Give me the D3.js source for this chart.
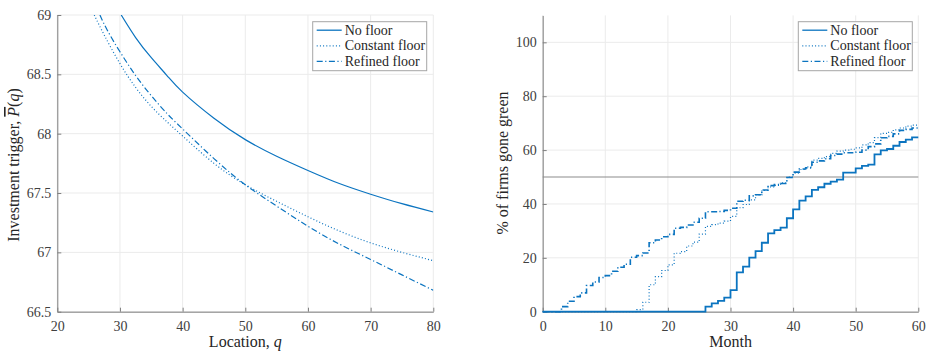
<!DOCTYPE html>
<html>
<head>
<meta charset="utf-8">
<script src="https://cdn.jsdelivr.net/npm/d3@7"></script>
<style>
  body { margin: 0; background: #fff; }
  text { font-family: "Liberation Serif", "DejaVu Serif", serif; }
</style>
</head>
<body>
<div id="chart-area"></div>
<script>
// ---- data ----

// left panel: investment trigger against location q
var qNoFloor = [30.2, 32.5, 35, 37.5, 40, 45, 50, 55, 60, 65, 70, 75, 80]
var pNoFloor = [69.0, 68.81, 68.64, 68.49, 68.35, 68.13, 67.95, 67.81, 67.69, 67.58, 67.49, 67.41, 67.34]

var qConst = [25.9, 27.5, 30, 32.5, 35, 37.5, 40, 45, 50, 55, 60, 65, 70, 75, 80]
var pConst = [69.0, 68.83, 68.59, 68.39, 68.23, 68.1, 67.98, 67.75, 67.57, 67.43, 67.3, 67.18, 67.08, 67.0, 66.93]

var qRefined = [26.8, 28, 30, 32.5, 35, 37.5, 40, 45, 50, 55, 60, 65, 70, 75, 80]
var pRefined = [69.0, 68.87, 68.69, 68.49, 68.32, 68.17, 68.04, 67.79, 67.57, 67.39, 67.22, 67.07, 66.94, 66.81, 66.68]

var leftXTicks = [20, 30, 40, 50, 60, 70, 80]
var leftYTicks = [66.5, 67, 67.5, 68, 68.5, 69]

// right panel: share of firms gone green by month (stairs)
var months = d3.range(0, 61)
var greenNoFloor = [0,0,0,0,0, 0,0,0,0,0, 0,0,0,0,0, 0,0,0,0,0, 0,0,0,0,0, 0,
  1.9, 3.1, 4.0, 5.2, 8.0, 14.6, 16.7, 20.1, 22.5, 25.6, 29.1, 30.3, 31.2, 34.7, 38.0,
  41.2, 42.8, 45.2, 46.2, 47.5, 48.3, 49.0, 51.6, 51.6, 53.2, 54.1, 54.6, 58.4, 59.9, 60.4,
  61.6, 63.0, 63.9, 64.7, 64.7]
var greenConst = [0,0,0,0,0, 0,0,0,0,0, 0,0,0,0,0,
  0.8, 3.5, 10.0, 13.0, 15.3, 17.4, 21.7, 22.3, 24.4, 25.8, 28.8, 31.7, 32.3, 32.9, 33.6,
  35.4, 38.6, 39.8, 41.5, 43.4, 45.0, 46.3, 46.9, 47.8, 50.0, 51.4, 52.8, 53.8, 56.3, 56.9,
  57.6, 58.8, 59.6, 60.0, 60.3, 60.8, 61.9, 62.8, 64.6, 66.2, 66.6, 67.5, 68.2, 68.9, 69.3, 69.3]
var greenRefined = [0,0,0,
  1.9, 3.9, 5.6, 7.0, 9.7, 11.0, 12.7, 13.4, 15.0, 16.5, 17.6, 20.2, 20.8, 21.8, 25.6,
  26.6, 27.8, 28.7, 31.0, 31.3, 32.2, 33.2, 34.7, 37.1, 37.1, 37.2, 37.6, 38.4, 41.0, 41.4,
  43.0, 43.4, 45.2, 46.8, 47.2, 47.6, 49.8, 51.8, 53.0, 53.4, 55.5, 56.0, 56.8, 58.0, 58.5,
  59.0, 59.0, 59.2, 60.0, 61.3, 62.3, 64.6, 65.1, 66.0, 67.3, 67.7, 68.2, 68.2]
var halfLine = 50

var rightXTicks = [0, 10, 20, 30, 40, 50, 60]
var rightYTicks = [0, 20, 40, 60, 80, 100]

var legendNames = ['No floor', 'Constant floor', 'Refined floor']

// ---- styles ----
var blue = '#0b74c0'
var dashes = ['none', '1,2.2', '6,2.5,1.2,2.5']

var svg = d3.select('#chart-area').append('svg')
  .attr('width', 930)
  .attr('height', 354)

// draws axes, grid, labels for one panel and returns the scales
function makePanel(opts) {
  var g = svg.append('g')
  var x = d3.scaleLinear().domain(opts.xDomain).range(opts.xRange)
  var y = d3.scaleLinear().domain(opts.yDomain).range(opts.yRange)

  // grid
  g.selectAll('.gx').data(opts.xTicks).enter().append('line')
    .attr('x1', d => x(d)).attr('x2', d => x(d))
    .attr('y1', opts.yRange[0]).attr('y2', opts.yRange[1])
    .attr('stroke', '#ebebeb').attr('stroke-width', 1)
  g.selectAll('.gy').data(opts.yTicks).enter().append('line')
    .attr('x1', opts.xRange[0]).attr('x2', opts.xRange[1])
    .attr('y1', d => y(d)).attr('y2', d => y(d))
    .attr('stroke', '#ebebeb').attr('stroke-width', 1)

  // axes with inward ticks
  var xAxis = g.append('g')
    .attr('transform', 'translate(0,' + opts.yRange[0] + ')')
    .call(d3.axisBottom(x).tickValues(opts.xTicks).tickSizeInner(-4).tickSizeOuter(0).tickPadding(9))
  var yAxis = g.append('g')
    .attr('transform', 'translate(' + opts.xRange[0] + ',0)')
    .call(d3.axisLeft(y).tickValues(opts.yTicks).tickSizeInner(-4).tickSizeOuter(0).tickPadding(6)
      .tickFormat(opts.yFormat))
  ;[xAxis, yAxis].forEach(function(a) {
    a.select('.domain').attr('stroke', '#7f7f7f').attr('stroke-width', 1)
    a.selectAll('.tick line').attr('stroke', '#7f7f7f')
    a.selectAll('.tick text')
      .attr('font-family', '"Liberation Serif", serif')
      .attr('font-size', '14px')
      .attr('fill', '#404040')
  })

  return { g: g, x: x, y: y }
}

function addLegend(g, x0, y0) {
  var w = 114, h = 49
  g.append('rect')
    .attr('x', x0).attr('y', y0).attr('width', w).attr('height', h)
    .attr('fill', '#fff').attr('stroke', '#a6a6a6').attr('stroke-width', 1)
  legendNames.forEach(function(name, i) {
    var yy = y0 + 8.5 + i * 15.6
    g.append('line')
      .attr('x1', x0 + 4).attr('x2', x0 + 29)
      .attr('y1', yy).attr('y2', yy)
      .attr('stroke', blue).attr('stroke-width', 1.3)
      .attr('stroke-dasharray', dashes[i])
    g.append('text')
      .attr('x', x0 + 32).attr('y', yy + 4.5)
      .attr('font-size', '14px')
      .attr('fill', '#262626')
      .text(name)
  })
}

// ---- left panel ----
var L = makePanel({
  xDomain: [20, 80], xRange: [57.3, 433.3],
  yDomain: [66.5, 69], yRange: [311.7, 15],
  xTicks: leftXTicks, yTicks: leftYTicks,
  yFormat: d3.format('')
})

svg.append('clipPath').attr('id', 'clipL').append('rect')
  .attr('x', 57.3).attr('y', 15).attr('width', 376).attr('height', 296.7)

var curveLine = d3.line()
  .x(d => L.x(d[0])).y(d => L.y(d[1]))
  .curve(d3.curveNatural)

var leftSeries = [
  d3.zip(qNoFloor, pNoFloor),
  d3.zip(qConst, pConst),
  d3.zip(qRefined, pRefined)
]
L.g.selectAll('.curve').data(leftSeries).enter().append('path')
  .attr('d', curveLine)
  .attr('fill', 'none')
  .attr('stroke', blue)
  .attr('stroke-width', 1.2)
  .attr('stroke-dasharray', (d, i) => dashes[i])
  .attr('clip-path', 'url(#clipL)')

L.g.append('text')
  .attr('x', 245.3).attr('y', 347)
  .attr('text-anchor', 'middle')
  .attr('font-size', '16px')
  .attr('fill', '#262626')
  .html('Location, <tspan font-style="italic">q</tspan>')

var yLab = L.g.append('text')
  .attr('transform', 'translate(19,165) rotate(-90)')
  .attr('text-anchor', 'middle')
  .attr('font-size', '16px')
  .attr('fill', '#262626')
yLab.append('tspan').text('Investment trigger, ')
yLab.append('tspan').attr('font-style', 'italic').style('text-decoration', 'overline').text('P')
yLab.append('tspan').text('(')
yLab.append('tspan').attr('font-style', 'italic').text('q')
yLab.append('tspan').text(')')

addLegend(L.g, 312.7, 21.7)

// ---- right panel ----
var R = makePanel({
  xDomain: [0, 60], xRange: [542.7, 918.3],
  yDomain: [0, 110], yRange: [311.7, 15.4],
  xTicks: rightXTicks, yTicks: rightYTicks,
  yFormat: d3.format('d')
})

R.g.append('line')
  .attr('x1', R.x(0)).attr('x2', R.x(60))
  .attr('y1', R.y(halfLine)).attr('y2', R.y(halfLine))
  .attr('stroke', '#8c8c8c').attr('stroke-width', 1.2)

var stairs = d3.line()
  .x(d => R.x(d[0])).y(d => R.y(d[1]))
  .curve(d3.curveStepAfter)

var rightSeries = [
  d3.zip(months, greenNoFloor),
  d3.zip(months, greenConst),
  d3.zip(months, greenRefined)
]
var widths = [1.8, 1.2, 1.6]
R.g.selectAll('.stair').data(rightSeries).enter().append('path')
  .attr('d', stairs)
  .attr('fill', 'none')
  .attr('stroke', blue)
  .attr('stroke-width', (d, i) => widths[i])
  .attr('stroke-dasharray', (d, i) => dashes[i])

R.g.append('text')
  .attr('x', 730.7).attr('y', 347)
  .attr('text-anchor', 'middle')
  .attr('font-size', '16px')
  .attr('fill', '#262626')
  .text('Month')

R.g.append('text')
  .attr('transform', 'translate(508,163) rotate(-90)')
  .attr('text-anchor', 'middle')
  .attr('font-size', '16px')
  .attr('fill', '#262626')
  .text('% of firms gone green')

addLegend(R.g, 798.3, 21.7)
</script>
</body>
</html>
